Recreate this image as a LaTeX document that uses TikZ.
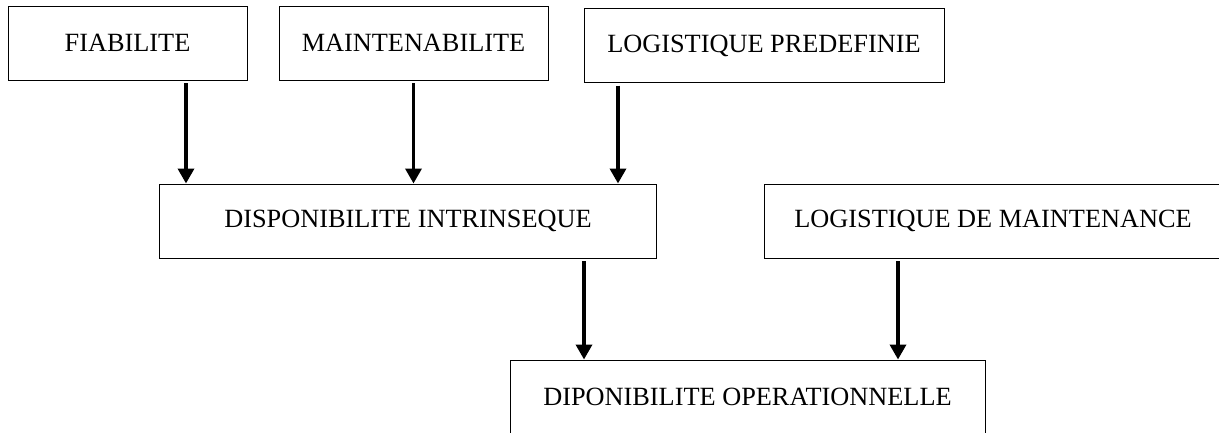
\documentclass[tikz,border=0pt]{standalone}
\usepackage{fontspec}
\setmainfont{Liberation Serif}
\usetikzlibrary{arrows.meta}
\begin{document}
\begin{tikzpicture}[x=1pt,y=-1pt,
  box/.style={draw=black,line width=1pt,minimum height=74pt,inner sep=0pt,
    font=\fontsize{26.3}{30}\selectfont,text=black},
  arr/.style={line width=3.5pt,-{Triangle[length=15pt,width=16pt]},shorten <=2.5pt}]
\useasboundingbox (0,0) rectangle (1219,432);
\clip (0,0) rectangle (1219,432);
\fill[white] (0,0) rectangle (1219,432);
\node[box,minimum width=239pt] (F) at (127.5,43) {FIABILITE};
\node[box,minimum width=269pt] (M) at (413.5,43) {MAINTENABILITE};
\node[box,minimum width=360pt] (LP) at (764,45.5) {LOGISTIQUE PREDEFINIE};
\node[box,minimum width=496.5pt] (DI) at (408,221) {DISPONIBILITE INTRINSEQUE};
\node[box,minimum width=458pt] (LDM) at (993,221) {LOGISTIQUE DE MAINTENANCE};
\node[box,minimum width=475pt] (DO) at (747.5,397) {DIPONIBILITE OPERATIONNELLE};
\coordinate (fa) at ([xshift=58.5pt]F.south);
\coordinate (ma) at (M.south);
\coordinate (la) at ([xshift=-146pt]LP.south);
\coordinate (da) at ([xshift=176pt]DI.south);
\coordinate (ga) at ([xshift=-95pt]LDM.south);
\draw[arr] (fa) -- (fa |- DI.north);
\draw[arr] (ma) -- (ma |- DI.north);
\draw[arr] (la) -- (la |- DI.north);
\draw[arr] (da) -- (da |- DO.north);
\draw[arr] (ga) -- (ga |- DO.north);
\end{tikzpicture}
\end{document}
